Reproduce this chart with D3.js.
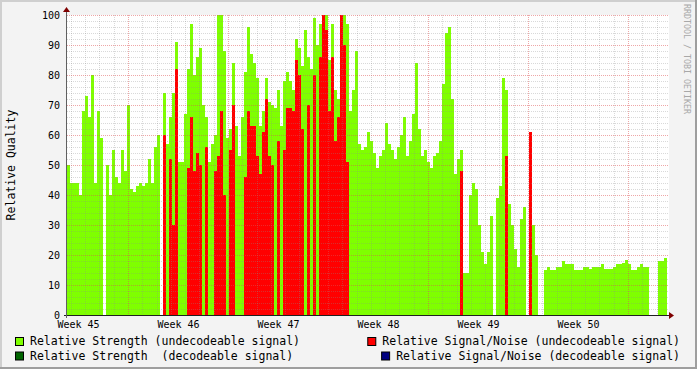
<!DOCTYPE html>
<html>
<head>
<meta charset="utf-8">
<script src="https://cdn.jsdelivr.net/npm/d3@7"></script>
<style>
  body { margin: 0; background: #f3f3f3; }
  svg { display: block; }
  text { font-family: "DejaVu Sans Mono", monospace; }
</style>
</head>
<body>
<div id="graph"></div>
<script>
// relative strength (undecodeable signal), one value per ~5h column
const strength = [
  50,44,44,44,40,68,73,66,80,44,
  68,59,0,50,40,55,46,44,55,48,
  70,42,41,43,44,43,44,52,44,56,
  60,0,74,57,66,74,91,51,51,67,
  82,97,80,86,89,70,66,51,57,60,
  100,100,88,59,62,84,63,53,66,81,
  96,87,84,79,63,68,79,71,70,69,
  75,63,78,81,78,75,92,89,83,95,
  86,82,99,90,97,100,100,85,97,75,
  72,100,100,97,68,75,88,57,55,56,
  61,58,54,49,53,55,64,57,55,52,
  56,60,66,53,58,67,84,62,53,55,
  51,49,53,54,58,77,94,96,72,47,
  52,55,14,14,40,44,42,30,21,17,
  21,33,0,39,43,79,75,37,30,22,
  16,32,36,0,38,30,20,0,0,15,
  16,15,15,16,16,18,17,17,17,15,
  15,15,16,16,15.5,16,16,16,17,15.5,
  15.5,15.5,16,17,17,17.5,18.5,17,15,15,
  16,17,16,16,0,0,0,18,18,19
];

// relative signal/noise (undecodeable signal)
const snr = [
  0,0,0,0,0,0,0,0,0,0,
  0,0,0,0,0,0,0,0,0,0,
  0,0,0,0,0,0,0,0,0,0,
  0,0,60,0,52,30,82,0,0,0,
  49,66,48,54,50,0,56,0,0,48,
  53,68,40,0,55,70,0,0,0,46,
  68,63,63,53,47,61,72,53,50,0,
  58,0,55,69,69,68,85,80,62,0,
  70,0,80,0,86,100,95,68,86,58,
  66,100,90,51,0,0,0,0,0,0,
  0,0,0,0,0,0,0,0,0,0,
  0,0,0,0,0,0,0,0,0,0,
  0,0,0,0,0,0,0,0,0,0,
  0,48,0,0,0,0,0,0,0,0,
  0,0,0,0,0,0,53,0,0,0,
  0,0,0,0,61,0,0,0,0,0,
  0,0,0,0,0,0,0,0,0,0,
  0,0,0,0,0,0,0,0,0,0,
  0,0,0,0,0,0,0,0,0,0,
  0,0,0,0,0,0,0,0,0,0
];

const yTicks = [0, 10, 20, 30, 40, 50, 60, 70, 80, 90, 100];
const weekFormat = "Week %V";
const legendLeft = ["Relative Strength (undecodeable signal)", "Relative Strength  (decodeable signal)"];
const legendRight = ["Relative Signal/Noise (undecodeable signal)", "Relative Signal/Noise (decodeable signal)"];
const colors = {strength: "#7fff00", snr: "#ff0000", strengthOk: "#006400", snrOk: "#000080"};

const W = 697, H = 369;
const plotLeft = 67, plotRight = 667, plotTop = 15, plotBottom = 315;

const svg = d3.select("#graph")
  .append("svg")
    .attr("width", W)
    .attr("height", H);

// background and shaded frame
svg.append("rect").attr("width", W).attr("height", H).attr("fill", "#f3f3f3");
svg.append("rect").attr("x", 0).attr("y", 0).attr("width", W).attr("height", 2).attr("fill", "#cfcfcf");
svg.append("rect").attr("x", 0).attr("y", 0).attr("width", 2).attr("height", H).attr("fill", "#cfcfcf");
svg.append("rect").attr("x", W - 2).attr("y", 0).attr("width", 2).attr("height", H).attr("fill", "#9e9e9e");
svg.append("rect").attr("x", 0).attr("y", H - 2).attr("width", W).attr("height", 2).attr("fill", "#9e9e9e");

// canvas
svg.append("rect")
  .attr("x", plotLeft).attr("y", plotTop)
  .attr("width", plotRight - plotLeft + 2).attr("height", plotBottom - plotTop)
  .attr("fill", "#ffffff");

// scales
const start = new Date(Date.UTC(2007, 10, 7, 17, 30));
const end = d3.utcDay.offset(start, 42);
const x = d3.scaleUtc().domain([start, end]).range([plotLeft, plotRight]);
const y = d3.scaleLinear().domain([0, 100]).range([plotBottom, plotTop]);
const step = (end - start) / strength.length;
const colStart = i => new Date(+start + i * step);

// data areas, one column per sample
const g = svg.append("g").attr("shape-rendering", "crispEdges");
g.selectAll("rect.s")
  .data(strength)
  .join("rect")
    .attr("class", "s")
    .attr("x", (d, i) => x(colStart(i)))
    .attr("width", (d, i) => x(colStart(i + 1)) - x(colStart(i)) + 0.3)
    .attr("y", d => y(d))
    .attr("height", d => plotBottom - y(d))
    .attr("fill", colors.strength);
g.selectAll("rect.n")
  .data(snr)
  .join("rect")
    .attr("class", "n")
    .attr("x", (d, i) => x(colStart(i)))
    .attr("width", (d, i) => x(colStart(i + 1)) - x(colStart(i)) + 0.3)
    .attr("y", d => y(d))
    .attr("height", d => plotBottom - y(d))
    .attr("fill", colors.snr);

// grid (drawn over the data like rrdtool)
const grid = svg.append("g").attr("shape-rendering", "crispEdges").attr("stroke-dasharray", "1,1");
const minorY = d3.range(0, 101, 2).filter(v => v % 10 !== 0);
grid.selectAll("line.hy")
  .data(minorY)
  .join("line")
    .attr("x1", plotLeft).attr("x2", plotRight + 2)
    .attr("y1", d => y(d) + 0.5).attr("y2", d => y(d) + 0.5)
    .attr("stroke", "rgba(140,140,140,0.33)");
const days = x.ticks(d3.utcDay.every(1)).filter(d => d.getUTCDay() !== 1);
grid.selectAll("line.vx")
  .data(days)
  .join("line")
    .attr("x1", d => Math.round(x(d)) + 0.5).attr("x2", d => Math.round(x(d)) + 0.5)
    .attr("y1", plotTop).attr("y2", plotBottom)
    .attr("stroke", "rgba(140,140,140,0.33)");
grid.selectAll("line.my")
  .data(yTicks.filter(v => v > 0))
  .join("line")
    .attr("x1", plotLeft).attr("x2", plotRight + 2)
    .attr("y1", d => y(d) + 0.5).attr("y2", d => y(d) + 0.5)
    .attr("stroke", "rgba(222,80,80,0.5)");
const mondays = x.ticks(d3.utcMonday.every(1));
grid.selectAll("line.mx")
  .data(mondays)
  .join("line")
    .attr("x1", d => Math.round(x(d)) + 0.5).attr("x2", d => Math.round(x(d)) + 0.5)
    .attr("y1", plotTop).attr("y2", plotBottom)
    .attr("stroke", "rgba(222,80,80,0.5)");

// axis lines and arrows
svg.append("line")
  .attr("x1", plotLeft - 3).attr("x2", plotRight + 3)
  .attr("y1", plotBottom + 0.5).attr("y2", plotBottom + 0.5)
  .attr("stroke", "#202020");
svg.append("line")
  .attr("x1", plotLeft - 0.5).attr("x2", plotLeft - 0.5)
  .attr("y1", plotBottom + 3).attr("y2", plotTop - 4)
  .attr("stroke", "#606060");
svg.append("path")
  .attr("d", `M${plotRight + 2},${plotBottom - 3}L${plotRight + 7},${plotBottom + 0.5}L${plotRight + 2},${plotBottom + 4}Z`)
  .attr("fill", "#7f0000");
svg.append("path")
  .attr("d", `M${plotLeft - 4},${plotTop - 3}L${plotLeft - 0.5},${plotTop - 8}L${plotLeft + 3},${plotTop - 3}Z`)
  .attr("fill", "#7f0000");

// y axis labels
const yAxis = svg.append("g")
  .attr("transform", `translate(${plotLeft},0)`)
  .call(d3.axisLeft(y).tickValues(yTicks).tickSize(0).tickPadding(7));
yAxis.select(".domain").remove();
yAxis.selectAll("text")
  .attr("font-family", "DejaVu Sans Mono")
  .attr("font-size", 10)
  .attr("fill", "#000");

// x axis labels at the middle of each week inside the range
const midWeeks = [d3.utcHour.offset(mondays[0], -84)]
  .concat(mondays.map(d => d3.utcHour.offset(d, 84)))
  .filter(d => d >= start && d <= end);
const xAxis = svg.append("g")
  .attr("transform", `translate(0,${plotBottom})`)
  .call(d3.axisBottom(x).tickValues(midWeeks).tickFormat(d3.utcFormat(weekFormat)).tickSize(0).tickPadding(6));
xAxis.select(".domain").remove();
xAxis.selectAll("text")
  .attr("font-family", "DejaVu Sans Mono")
  .attr("font-size", 10)
  .attr("fill", "#000");

// vertical title
svg.append("text")
  .attr("transform", `translate(15,${(plotTop + plotBottom) / 2}) rotate(-90)`)
  .attr("text-anchor", "middle")
  .attr("font-size", 11.5)
  .text("Relative Quality");

// watermark
svg.append("text")
  .attr("transform", "translate(684,4) rotate(90)")
  .attr("font-size", 8.3)
  .attr("fill", "#a8a8a8")
  .text("RRDTOOL / TOBI OETIKER");

// legend
const legendColors = [[colors.strength, colors.strengthOk], [colors.snr, colors.snrOk]];
legendLeft.forEach((t, i) => {
  const yy = 337 + i * 14.5;
  svg.append("rect").attr("x", 15.5).attr("y", yy + 0.5).attr("width", 8).attr("height", 8)
    .attr("fill", legendColors[0][i]).attr("stroke", "#000");
  svg.append("text").attr("x", 30).attr("y", yy + 8).attr("font-size", 11.5).attr("xml:space", "preserve").text(t);
});
legendRight.forEach((t, i) => {
  const yy = 337 + i * 14.5;
  const tx = svg.append("text").attr("x", 680).attr("y", yy + 8).attr("font-size", 11.5)
    .attr("text-anchor", "end").attr("xml:space", "preserve").text(t);
  const wdt = tx.node().getComputedTextLength();
  svg.append("rect").attr("x", 680 - wdt - 14.5).attr("y", yy + 0.5).attr("width", 8).attr("height", 8)
    .attr("fill", legendColors[1][i]).attr("stroke", "#000");
});
</script>
</body>
</html>
